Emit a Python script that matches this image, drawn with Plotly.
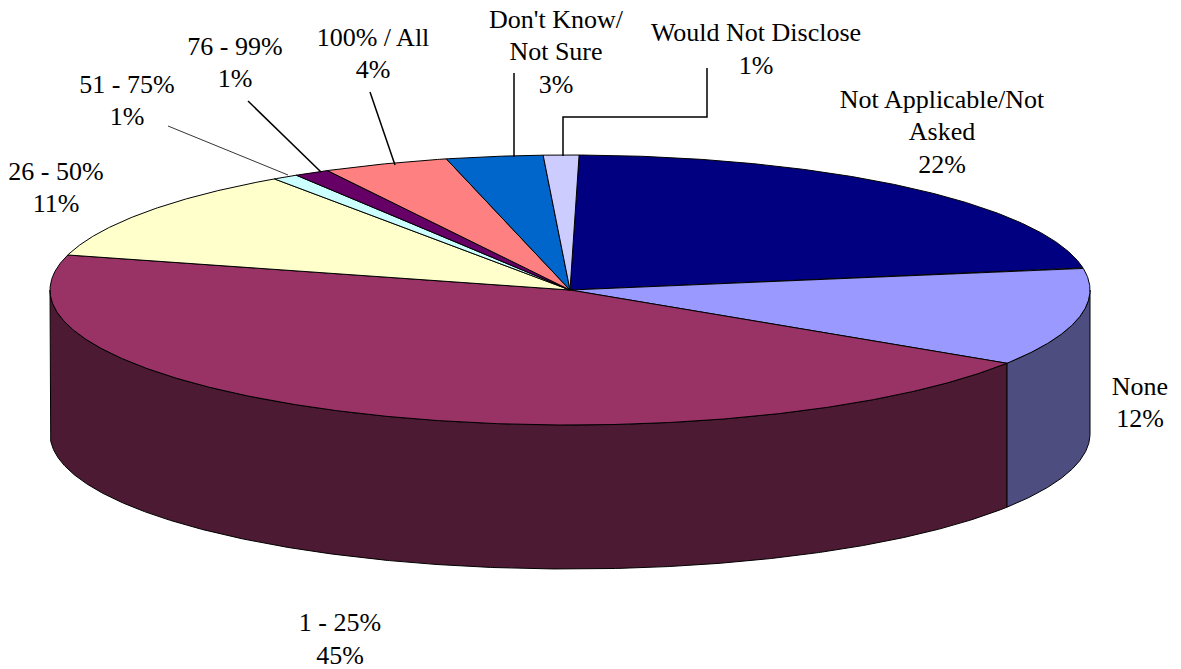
import numpy as np
import plotly.graph_objects as go

categories = ["Not Applicable/Not Asked", "None", "1 - 25%", "26 - 50%", "51 - 75%",
              "76 - 99%", "100% / All", "Don't Know/Not Sure", "Would Not Disclose"]
values = [22.1, 11.75, 45.05, 11.2, 0.8, 1.1, 3.9, 3.0, 1.1]
value_labels = ["22%", "12%", "45%", "11%", "1%", "1%", "4%", "3%", "1%"]

colors = ["#000080", "#9999FF", "#993366", "#FFFFCC", "#CCFFFF", "#660066", "#FF8080", "#0066CC", "#CCCCFF"]
wall_colors = ["#000040", "#4D4D80", "#4D1A33", "#808066", "#668080", "#330033", "#804040", "#003366", "#666680"]

W, H = 1181, 669
CX, CY, RX, RY, DEPTH = 570.0, 290.0, 520.0, 135.0, 144.0
START = 1.0
FONT = "Liberation Serif"
FS = 26
TEXT_DY = 1.5


def ellipse(t_deg, dy=0.0):
    t = np.radians(t_deg)
    return CX + RX * np.sin(t), CY - RY * np.cos(t) + dy


def arc(a, b):
    return np.linspace(a, b, max(3, int(abs(b - a) * 4)))


fig = go.Figure()

edges = START + np.concatenate([[0], np.cumsum(values)]) / sum(values) * 360

# side walls (only the front half of the rim, t in 90..270)
for i, cat in enumerate(categories):
    a, b = max(edges[i], 90), min(edges[i + 1], 270)
    if b <= a:
        continue
    ts = arc(a, b)
    x1, y1 = ellipse(ts)
    x2, y2 = ellipse(ts[::-1], DEPTH)
    fig.add_trace(go.Scatter(
        x=np.r_[x1, x2, x1[0]], y=np.r_[y1, y2, y1[0]], mode="lines", fill="toself",
        fillcolor=wall_colors[i], line=dict(color="#000000", width=1),
        hoverinfo="skip", showlegend=False))

# top faces
for i, cat in enumerate(categories):
    ts = arc(edges[i], edges[i + 1])
    x, y = ellipse(ts)
    fig.add_trace(go.Scatter(
        x=np.r_[CX, x, CX], y=np.r_[CY, y, CY], mode="lines", fill="toself",
        fillcolor=colors[i], line=dict(color="#000000", width=1),
        name=cat, text=f"{cat}: {value_labels[i]}", hoverinfo="text", showlegend=False))

# leader lines
leaders = [
    ([168, 288], [126, 175], 0.8),
    ([248, 321], [101, 172], 1.5),
    ([370, 395], [92, 165], 1.5),
    ([514, 514], [73, 157], 1.5),
    ([707, 707, 563, 563], [68, 117, 117, 156], 1.5),
]
for lx, ly, lw in leaders:
    fig.add_trace(go.Scatter(x=lx, y=ly, mode="lines", line=dict(color="#000000", width=lw),
                             hoverinfo="skip", showlegend=False))

# labels: (index, wrapped name lines, centre x, y of each line)
labels = [
    (0, ["Not Applicable/Not", "Asked"], 942, [100, 132, 165]),
    (1, ["None"], 1140, [387, 419]),
    (2, ["1 - 25%"], 340, [623, 656]),
    (3, ["26 - 50%"], 56, [172, 204]),
    (4, ["51 - 75%"], 127, [85, 117]),
    (5, ["76 - 99%"], 235, [47, 79]),
    (6, ["100% / All"], 373, [38, 70]),
    (7, ["Don't Know/", "Not Sure"], 556, [20, 52, 85]),
    (8, ["Would Not Disclose"], 756, [33, 66]),
]
tx, ty, tt = [], [], []
for idx, lines, x0, ys in labels:
    for line, y0 in zip(lines + [value_labels[idx]], ys):
        tx.append(x0)
        ty.append(y0 + TEXT_DY)
        tt.append(line)
fig.add_trace(go.Scatter(x=tx, y=ty, text=tt, mode="text", textposition="middle center",
                         textfont=dict(family=FONT, size=FS, color="#000000"),
                         hoverinfo="skip", showlegend=False))

fig.update_layout(
    width=W, height=H, margin=dict(l=0, r=0, t=0, b=0),
    paper_bgcolor="#FFFFFF", plot_bgcolor="#FFFFFF", showlegend=False,
    xaxis=dict(range=[0, W], visible=False, fixedrange=True),
    yaxis=dict(range=[H, 0], visible=False, fixedrange=True),
)
fig.write_html("out.html", config=dict(displayModeBar=False),
               post_script="document.body.style.margin='0';")
